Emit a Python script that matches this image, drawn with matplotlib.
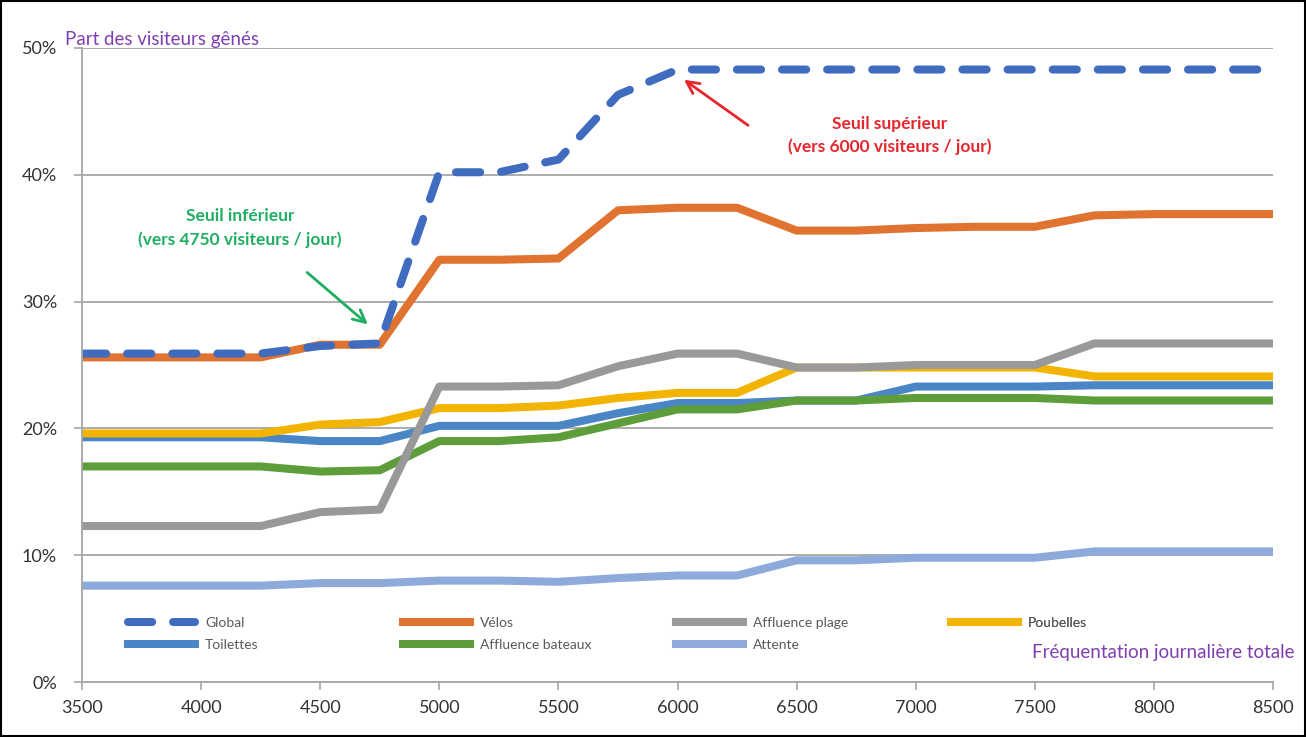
import numpy as np
import matplotlib
matplotlib.use('Agg')
import matplotlib.pyplot as plt
from matplotlib.patches import Rectangle

plt.rcParams['font.family'] = ['Lato', 'DejaVu Sans']

# frequentation journaliere totale (visiteurs / jour)
freq = [3500, 3750, 4000, 4250, 4500, 4750, 5000, 5250, 5500, 5750, 6000,
        6250, 6500, 6750, 7000, 7250, 7500, 7750, 8000, 8250, 8500]

# part des visiteurs genes (%)
glob = [25.9, 25.9, 25.9, 25.9, 26.5, 26.7, 40.2, 40.2, 41.2, 46.3, 48.3,
        48.3, 48.3, 48.3, 48.3, 48.3, 48.3, 48.3, 48.3, 48.3, 48.3]
velos = [25.6, 25.6, 25.6, 25.6, 26.6, 26.6, 33.3, 33.3, 33.4, 37.2, 37.4,
         37.4, 35.6, 35.6, 35.8, 35.9, 35.9, 36.8, 36.9, 36.9, 36.9]
plage = [12.3, 12.3, 12.3, 12.3, 13.4, 13.6, 23.3, 23.3, 23.4, 24.9, 25.9,
         25.9, 24.8, 24.8, 25.0, 25.0, 25.0, 26.7, 26.7, 26.7, 26.7]
poubelles = [19.6, 19.6, 19.6, 19.6, 20.3, 20.5, 21.6, 21.6, 21.8, 22.4, 22.8,
             22.8, 24.8, 24.8, 24.8, 24.8, 24.8, 24.1, 24.1, 24.1, 24.1]
toilettes = [19.3, 19.3, 19.3, 19.3, 19.0, 19.0, 20.2, 20.2, 20.2, 21.2, 22.0,
             22.0, 22.2, 22.2, 23.3, 23.3, 23.3, 23.4, 23.4, 23.4, 23.4]
bateaux = [17.0, 17.0, 17.0, 17.0, 16.6, 16.7, 19.0, 19.0, 19.3, 20.4, 21.5,
           21.5, 22.2, 22.2, 22.4, 22.4, 22.4, 22.2, 22.2, 22.2, 22.2]
attente = [7.6, 7.6, 7.6, 7.6, 7.8, 7.8, 8.0, 8.0, 7.9, 8.2, 8.4,
           8.4, 9.6, 9.6, 9.8, 9.8, 9.8, 10.3, 10.3, 10.3, 10.3]

xticks = [3500, 4000, 4500, 5000, 5500, 6000, 6500, 7000, 7500, 8000, 8500]
yticks = [0, 10, 20, 30, 40, 50]

fig = plt.figure(figsize=(13.06, 7.37), dpi=100)
ax = fig.add_axes([0.0628, 0.0746, 0.912, 0.8603])

lw = 5.8
l_tl, = ax.plot(freq, toilettes, color='#4A86C5', lw=lw, solid_joinstyle='round', label='Toilettes')
l_bt, = ax.plot(freq, bateaux, color='#5E9E3A', lw=lw, solid_joinstyle='round', label='Affluence bateaux')
l_pb, = ax.plot(freq, poubelles, color='#F2B400', lw=lw, solid_joinstyle='round', label='Poubelles')
l_pl, = ax.plot(freq, plage, color='#999999', lw=lw, solid_joinstyle='round', label='Affluence plage')
l_at, = ax.plot(freq, attente, color='#8EAADB', lw=lw, solid_joinstyle='round', label='Attente')
l_vl, = ax.plot(freq, velos, color='#E07330', lw=lw, solid_joinstyle='round', label='Vélos')
l_gl, = ax.plot(freq, glob, color='#3F6CBF', lw=lw, dashes=(3.0, 2.6),
                dash_capstyle='round', label='Global')

ax.set_xlim(3500, 8500)
ax.set_ylim(0, 50)
ax.set_xticks(xticks)
ax.set_yticks(yticks)
ax.set_yticklabels(['{}%'.format(v) for v in yticks])
ax.grid(axis='y', color='#A6A6A6', lw=1.3)
ax.set_axisbelow(True)
for s in ['top', 'right']:
    ax.spines[s].set_visible(False)
for s in ['left', 'bottom']:
    ax.spines[s].set_color('#A6A6A6')
    ax.spines[s].set_linewidth(1.3)
ax.tick_params(axis='both', colors='#A6A6A6', labelcolor='#333333', labelsize=13, length=6, width=1.2)
ax.tick_params(axis='y', pad=12)
ax.tick_params(axis='x', pad=7)

# legend: four columns, two rows
cols = [[l_gl, l_tl], [l_vl, l_bt], [l_pl, l_at], [l_pb]]
xs = [0.034, 0.265, 0.494, 0.725]
for handles, x0 in zip(cols, xs):
    leg = ax.legend(handles=handles, loc='upper left', bbox_to_anchor=(x0, 0.112),
                    frameon=False, fontsize=10, handlelength=4.8, handletextpad=0.75,
                    labelspacing=0.75, borderaxespad=0, labelcolor='#595959')
    ax.add_artist(leg)

ax.text(-0.014, 1.013, 'Part des visiteurs gênés', transform=ax.transAxes,
        color='#7F3FB0', fontsize=13.5, ha='left', va='center')
ax.text(1.018, 0.047, 'Fréquentation journalière totale', transform=ax.transAxes,
        color='#7F3FB0', fontsize=13.5, ha='right', va='center')

# seuils
ax.text(4163, 35.8, 'Seuil inférieur\n(vers 4750 visiteurs / jour)', color='#1FAE62',
        fontsize=12.5, fontweight='bold', ha='center', va='center', linespacing=1.5)
ax.annotate('', xy=(4700, 28.2), xytext=(4445, 32.3),
            arrowprops=dict(arrowstyle='->', color='#1FAE62', lw=2,
                            shrinkA=0, shrinkB=0, mutation_scale=22))
ax.text(6892, 43.1, 'Seuil supérieur\n(vers 6000 visiteurs / jour)', color='#E5262C',
        fontsize=12.5, fontweight='bold', ha='center', va='center', linespacing=1.5)
ax.annotate('', xy=(6027, 47.5), xytext=(6296, 43.9),
            arrowprops=dict(arrowstyle='->', color='#E5262C', lw=2,
                            shrinkA=0, shrinkB=0, mutation_scale=22))

fig.patches.append(Rectangle((0.001, 0.001), 0.998, 0.997, transform=fig.transFigure,
                             fill=False, edgecolor='black', lw=1.5))

fig.savefig('out.png', dpi=100)
